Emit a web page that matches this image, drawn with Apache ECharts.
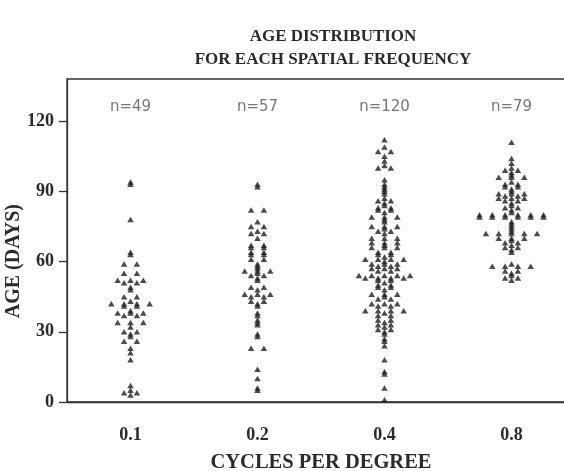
<!DOCTYPE html>
<html><head><meta charset="utf-8">
<script src="https://cdn.jsdelivr.net/npm/echarts@6/dist/echarts.min.js"></script>
<style>html,body{margin:0;padding:0;background:#fff}#c{width:564px;height:471px}</style>
</head><body><div id="c"></div>
<script>
const categories = ['0.1', '0.2', '0.4', '0.8'];
const nLabels = ['n=49', 'n=57', 'n=120', 'n=79'];
const yTicks = [0, 30, 60, 90, 120];
const titleLines = ['AGE DISTRIBUTION', 'FOR EACH SPATIAL FREQUENCY'];
const xTitle = 'CYCLES PER DEGREE';
const yTitle = 'AGE (DAYS)';

// ages (days) of each infant, per spatial frequency
const ages01 = [94, 93, 78, 64, 63, 59, 59, 55, 55, 52, 52, 52, 51, 51, 49, 48, 45, 45, 43,
  42, 42, 42, 42, 41, 41, 39, 38, 38, 38, 37, 37, 34, 34, 34, 32, 30, 30, 29, 28, 26, 26,
  23, 21, 18, 7, 5, 4, 4, 3];
const ages02 = [93, 92, 82, 82, 77, 75, 75, 73, 72, 72, 70, 67, 67, 66, 66, 64, 64, 63, 63,
  61, 61, 59, 58, 57, 56, 56, 56, 55, 54, 54, 53, 52, 49, 49, 48, 46, 46, 46, 45, 45, 43, 43,
  42, 41, 38, 37, 35, 34, 33, 29, 28, 23, 23, 14, 10, 6, 5];
const ages04 = [112, 109, 107, 107, 105, 103, 101, 100, 100,
  95, 93, 92, 91, 90, 89, 87, 86, 86, 85, 84, 83, 83, 82, 82, 81,
  79, 79, 79, 78, 77, 75, 75, 75, 74, 73, 73, 72, 70, 70, 70, 68, 68, 68, 67, 66, 66, 66,
  64, 64, 63, 63, 62,
  61, 61, 61, 61, 60, 59, 59, 59, 58, 58, 57, 57, 57, 56, 56,
  54, 54, 54, 54, 54, 53, 53, 53, 53,
  52, 52, 51, 50, 50, 49, 49, 48,
  46, 46, 46, 45, 44, 44, 42, 42, 42, 41, 41, 39, 39, 39, 39, 38, 37, 37,
  35, 35, 34, 33, 33, 32, 31, 31, 30,
  29, 27, 26, 24, 18, 13, 12, 6, 1];
const ages08 = [111, 104, 102, 100, 99, 99, 98, 97, 96, 96, 96, 94, 93, 93, 92, 92, 91, 90,
  89, 89, 89, 88, 88, 87, 87, 87, 86, 86, 85, 84, 83, 83, 82, 81,
  80, 80, 80, 80, 80, 80, 79, 79, 79, 79, 79, 79, 77, 76, 75, 74, 73,
  72, 72, 72, 72, 72, 70, 70, 70, 69, 68, 68, 67, 66, 66, 65, 64,
  59, 58, 58, 58, 58, 56, 56, 55, 54, 53, 53, 52];
const groups = [ages01, ages02, ages04, ages08];

// dot-plot layout: equal values are spread side by side
const SLOT = 6.4 / 127;
function swarm(values, ci) {
  const counts = new Map();
  values.forEach(v => counts.set(v, (counts.get(v) || 0) + 1));
  const pts = [];
  counts.forEach((k, v) => {
    const offs = [];
    if (k % 2) { offs.push(0); for (let j = 1; offs.length < k; j++) offs.push(-2 * j, 2 * j); }
    else { for (let j = 0; offs.length < k; j++) offs.push(-(2 * j + 1), 2 * j + 1); }
    offs.slice(0, k).forEach(o => pts.push([ci + o * SLOT, v]));
  });
  return pts;
}

const serif = '"Liberation Serif", "DejaVu Serif", serif';
const ink = '#2a2a2a';
const line = '#333';
const chart = echarts.init(document.getElementById('c'), null, { renderer: 'canvas' });

const series = groups.map((g, i) => ({
  type: 'scatter', xAxisIndex: 1, yAxisIndex: 0,
  symbol: 'triangle', symbolSize: [6.5, 5.5],
  itemStyle: { color: '#1e1e1e' },
  data: swarm(g, i), silent: true, animation: false
}));
series.push({
  type: 'scatter', xAxisIndex: 1, yAxisIndex: 0, symbolSize: 0, silent: true, animation: false,
  data: nLabels.map((t, i) => [i, 126]),
  label: { show: true, position: 'inside', formatter: p => nLabels[p.dataIndex],
    fontFamily: '"DejaVu Sans", "Liberation Sans", sans-serif', fontSize: 15, color: '#555' }
});

chart.setOption({
  animation: false,
  backgroundColor: '#fff',
  title: {
    text: titleLines.join('\n'), left: 328, top: 20, textAlign: 'center',
    textStyle: { fontFamily: serif, fontWeight: 'bold', fontSize: 17, lineHeight: 23, color: ink }
  },
  grid: { left: 67, top: 79, width: 508, bottom: 69, outerBoundsMode: 'none', containLabel: false,
    show: true, borderColor: line, borderWidth: 1.3 },
  xAxis: [{
    type: 'category', data: categories, boundaryGap: true,
    axisLine: { onZero: false, lineStyle: { color: line, width: 1.3 } },
    axisTick: { alignWithLabel: true, length: 8, lineStyle: { color: line, width: 1.3 } },
    axisLabel: { fontFamily: serif, fontWeight: 'bold', fontSize: 18, color: ink, margin: 24 },
    name: xTitle, nameLocation: 'middle', nameGap: 50,
    nameTextStyle: { fontFamily: serif, fontWeight: 'bold', fontSize: 20.5, color: ink }
  }, {
    type: 'value', min: -0.5, max: 3.5, show: false,
    axisLine: { show: false, onZero: false }, axisTick: { show: false }, axisLabel: { show: false },
    splitLine: { show: false }
  }],
  yAxis: {
    type: 'value', min: 0, max: 138, interval: 30,
    axisLine: { show: true, onZero: false, lineStyle: { color: line, width: 1.3 } },
    axisTick: { show: true, length: 8, customValues: yTicks, lineStyle: { color: line, width: 1.3 } },
    axisLabel: { customValues: yTicks, fontFamily: serif, fontWeight: 'bold', fontSize: 18, color: ink, margin: 13 },
    splitLine: { show: false }
  },
  graphic: [{
    type: 'text', left: 4, top: 204, rotation: Math.PI / 2,
    style: { text: yTitle, font: 'bold 20px ' + serif, fill: ink }
  }],
  series
});
</script></body></html>
